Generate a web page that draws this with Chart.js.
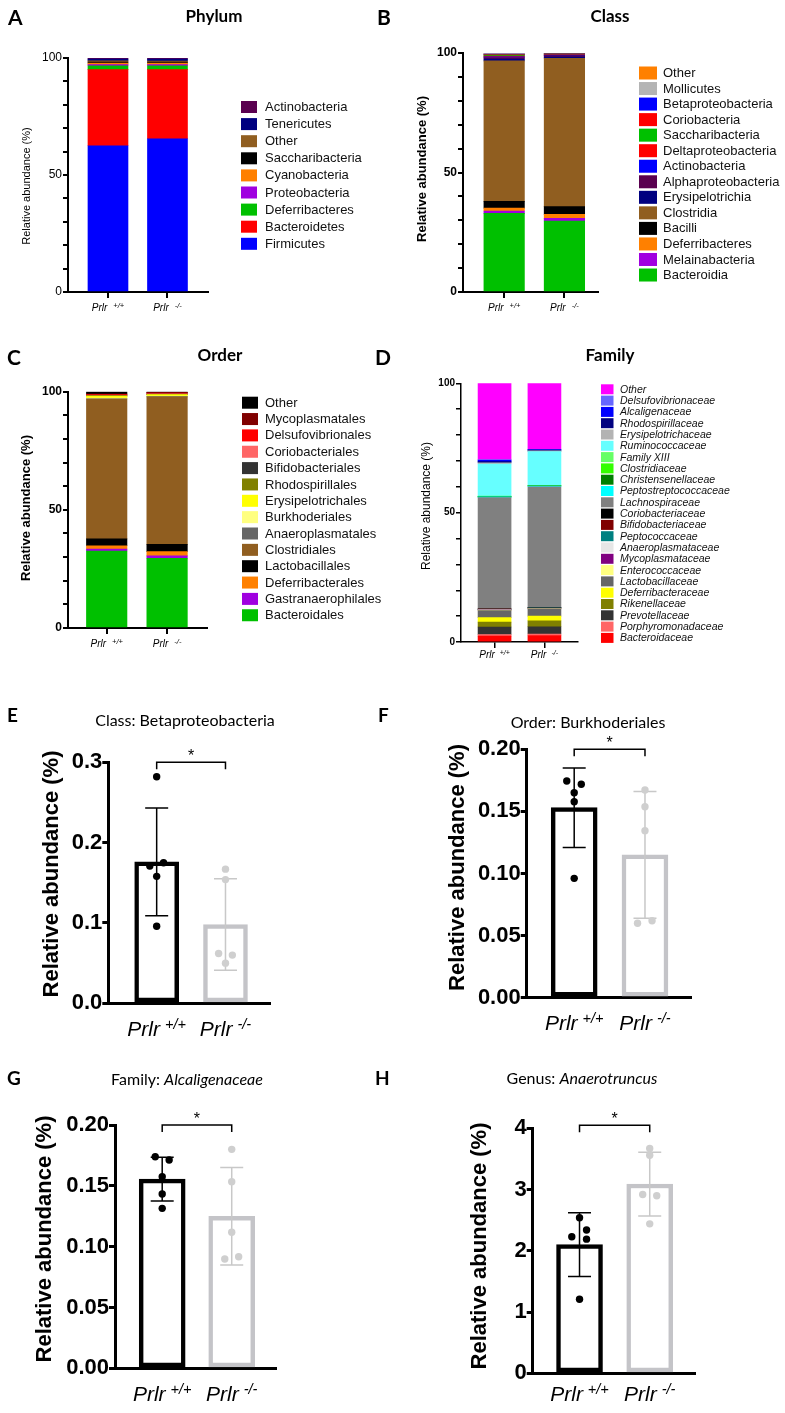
<!DOCTYPE html>
<html>
<head>
<meta charset="utf-8">
<title>Gut microbiota in Prlr mice</title>
<script src="https://cdn.jsdelivr.net/npm/chart.js@4.4.1/dist/chart.umd.min.js"></script>
<style>
  body { margin: 0; background: #fff; }
  .page { position: relative; width: 785px; height: 1413px; }
  canvas { position: absolute; left: 0; top: 0; }
</style>
</head>
<body>
<div class="page">
  <canvas id="phylum" width="785" height="1413"></canvas>
  <canvas id="class" width="785" height="1413"></canvas>
  <canvas id="order" width="785" height="1413"></canvas>
  <canvas id="family" width="785" height="1413"></canvas>
  <canvas id="beta" width="785" height="1413"></canvas>
  <canvas id="burk" width="785" height="1413"></canvas>
  <canvas id="alca" width="785" height="1413"></canvas>
  <canvas id="anaero" width="785" height="1413"></canvas>
</div>
<script>
// genotypes on the x axis (superscript part of "Prlr")
const genotypes = ["+/+", "-/-"];

// A: phylum, stacked bottom -> top
const phylumNames = ["Firmicutes", "Bacteroidetes", "Deferribacteres", "Proteobacteria", "Cyanobacteria",
  "Saccharibacteria", "Other", "Tenericutes", "Actinobacteria"];
const phylumWT = [62.5, 32.5, 1.7, 0.5, 0.6, 0.5, 0.5, 0.7, 0.5];
const phylumKO = [65.5, 29.5, 1.7, 0.5, 0.6, 0.5, 0.4, 0.8, 0.5];
const phylumColors = ["#0000ff", "#ff0000", "#00c000", "#a000e0", "#ff8000", "#000000", "#905e20", "#000080", "#5a0050"];

// B: class
const classNames = ["Bacteroidia", "Melainabacteria", "Deferribacteres", "Bacilli", "Clostridia", "Erysipelotrichia",
  "Alphaproteobacteria", "Actinobacteria", "Deltaproteobacteria", "Saccharibacteria", "Coriobacteria",
  "Betaproteobacteria", "Mollicutes", "Other"];
const classWT = [32.9, 1.0, 1.2, 2.8, 58.8, 0.8, 0.6, 0.3, 0.3, 0.4, 0.2, 0.2, 0.3, 0.2];
const classKO = [29.7, 1.1, 1.7, 3.2, 62.1, 0.5, 0.6, 0.2, 0.2, 0.3, 0.1, 0.1, 0.1, 0.1];
const classColors = ["#00c000", "#a000e0", "#ff8000", "#000000", "#905e20", "#000080", "#5a0050", "#0000ff",
  "#ff0000", "#00c000", "#ff0000", "#0000ff", "#b4b4b4", "#ff8000"];

// C: order
const orderNames = ["Bacteroidales", "Gastranaerophilales", "Deferribacterales", "Lactobacillales", "Clostridiales",
  "Anaeroplasmatales", "Burkhoderiales", "Erysipelotrichales", "Rhodospirillales", "Bifidobacteriales",
  "Coriobacteriales", "Delsufovibrionales", "Mycoplasmatales", "Other"];
const orderWT = [32.6, 0.8, 1.4, 2.9, 59.2, 0.1, 0.3, 0.8, 0.1, 0.1, 0.1, 0.4, 0.2, 1.0];
const orderKO = [29.5, 1.0, 1.8, 3.1, 62.4, 0.1, 0.2, 0.7, 0.1, 0.1, 0.1, 0.3, 0.2, 0.4];
const orderColors = ["#00c000", "#a000e0", "#ff8000", "#000000", "#905e20", "#666666", "#ffff80", "#ffff00",
  "#808000", "#333333", "#ff6666", "#ff0000", "#800000", "#000000"];

// D: family
const familyNames = ["Bacteroidaceae", "Porphyromonadaceae", "Prevotellaceae", "Rikenellaceae", "Deferribacteraceae",
  "Lactobacillaceae", "Enterococcaceae", "Mycoplasmataceae", "Anaeroplasmataceae", "Peptococcaceae",
  "Bifidobacteriaceae", "Coriobacteriaceae", "Lachnospiraceae", "Peptostreptococcaceae", "Christensenellaceae",
  "Clostridiaceae", "Family XIII", "Ruminococcaceae", "Erysipelotrichaceae", "Rhodospirillaceae",
  "Alcaligenaceae", "Delsufovibrionaceae", "Other"];
const familyWT = [2.3, 0.6, 2.9, 1.9, 1.7, 2.7, 0.2, 0.1, 0.1, 0.1, 0.1, 0.1, 43.0, 0.3, 0.1, 0.1, 0.1, 12.4, 0.5, 0.4, 0.5, 0.3, 29.5];
const familyKO = [2.5, 0.6, 2.8, 2.3, 1.8, 2.8, 0.1, 0.05, 0.05, 0.2, 0.05, 0.15, 46.6, 0.3, 0.1, 0.1, 0.1, 13.0, 0.3, 0.3, 0.2, 0.1, 25.5];
const familyColors = ["#ff0000", "#ff6666", "#333333", "#808000", "#ffff00", "#666666", "#ffff80", "#800080",
  "#e6e6e6", "#008080", "#800000", "#000000", "#808080", "#00ffff", "#008000", "#33ff00", "#66ff66",
  "#66ffff", "#b3b3b3", "#000080", "#0000ff", "#6666ff", "#ff00ff"];

// E: Class Betaproteobacteria (mean, SD, individual mice)
const betaMean = [0.176, 0.098];
const betaSD = [0.067, 0.057];
const betaWT = [0.282, 0.171, 0.175, 0.158, 0.096];
const betaKO = [0.167, 0.154, 0.062, 0.060, 0.050];
const betaJitWT = [0, -0.1, 0.1, 0, 0];
const betaJitKO = [0, 0, -0.1, 0.1, 0];

// F: Order Burkhoderiales
const burkMean = [0.153, 0.115];
const burkSD = [0.032, 0.051];
const burkWT = [0.1745, 0.1718, 0.165, 0.1578, 0.0961];
const burkKO = [0.1672, 0.1538, 0.1345, 0.0599, 0.062];
const burkJitWT = [-0.105, 0.1, 0, 0, 0];
const burkJitKO = [0, 0, 0, -0.105, 0.1];

// G: Family Alcaligenaceae
const alcaMean = [0.1555, 0.1250];
const alcaSD = [0.018, 0.040];
const alcaWT = [0.1739, 0.1712, 0.1575, 0.1433, 0.1315];
const alcaKO = [0.180, 0.1534, 0.1118, 0.0898, 0.0917];
const alcaJitWT = [-0.1, 0.1, 0, 0, 0];
const alcaJitKO = [0, 0, 0, -0.1, 0.1];

// H: Genus Anaerotruncus
const anaeroMean = [2.10, 3.09];
const anaeroSD = [0.52, 0.52];
const anaeroWT = [2.54, 2.23, 2.34, 2.19, 1.21];
const anaeroKO = [3.67, 3.56, 2.92, 2.90, 2.44];
const anaeroJitWT = [0, -0.11, 0.1, 0.1, 0];
const anaeroJitKO = [0, 0, -0.1, 0.1, 0];

const ARIAL = '"Liberation Sans", Arial, sans-serif';
const LATO = 'Lato, "Open Sans", sans-serif';
const W = 785, H = 1413;
const KO_BAR = "#c4c4c8", KO_DOT = "#cfcfcf", KO_ERR = "#c8c8c8";
const Y_W = 70; // room kept for y tick labels (labels are clipped to the scale box)

Chart.defaults.font.family = ARIAL;
Chart.defaults.color = "#000";

// draws letters, titles, axis titles, Prlr labels, legends, error bars, brackets
function decoPlugin(d) {
  return {
    id: "deco",
    afterDatasetDraw(chart, args) {
      if (!d.err || args.index !== 0) return;
      const { ctx, scales: { x, y } } = chart;
      ctx.save();
      ctx.lineWidth = 1.5;
      d.err.mean.forEach((m, i) => {
        const px = x.getPixelForValue(i);
        const hi = y.getPixelForValue(m + d.err.sd[i]);
        const lo = y.getPixelForValue(m - d.err.sd[i]);
        ctx.strokeStyle = i ? KO_ERR : "#000";
        ctx.beginPath();
        ctx.moveTo(px, hi); ctx.lineTo(px, lo);
        ctx.moveTo(px - 11.5, hi); ctx.lineTo(px + 11.5, hi);
        ctx.moveTo(px - 11.5, lo); ctx.lineTo(px + 11.5, lo);
        ctx.stroke();
      });
      ctx.restore();
    },
    afterDraw(chart) {
      const { ctx, scales: { x, y } } = chart;
      ctx.save();
      ctx.fillStyle = "#000";
      // panel letter
      ctx.font = `bold ${d.letter.size}px ${LATO}`;
      ctx.textAlign = "left"; ctx.textBaseline = "alphabetic";
      ctx.fillText(d.letter.t, d.letter.x, d.letter.y);
      // panel title, may mix roman and italic
      const fonts = d.title.parts.map(p => `${p.i ? "italic " : ""}${d.title.bold ? "bold " : ""}${d.title.size}px ${LATO}`);
      const widths = d.title.parts.map((p, k) => { ctx.font = fonts[k]; return ctx.measureText(p.t).width; });
      let tx = d.title.x - widths.reduce((a, b) => a + b, 0) / 2;
      ctx.textBaseline = "middle";
      d.title.parts.forEach((p, k) => { ctx.font = fonts[k]; ctx.fillText(p.t, tx, d.title.y); tx += widths[k]; });
      // y axis title
      ctx.save();
      ctx.translate(d.yTitle.x, d.yTitle.y);
      ctx.rotate(-Math.PI / 2);
      ctx.textAlign = "center";
      ctx.font = `${d.yTitle.bold ? "bold " : ""}${d.yTitle.size}px ${ARIAL}`;
      ctx.fillText("Relative abundance (%)", 0, 0);
      ctx.restore();
      // x group labels: Prlr with superscript genotype
      const L = d.xLab;
      ctx.textAlign = "left"; ctx.textBaseline = "alphabetic";
      genotypes.forEach((g, i) => {
        const cx = x.getPixelForValue(i);
        ctx.font = `italic ${L.size}px ${ARIAL}`;
        const w1 = ctx.measureText("Prlr").width;
        ctx.font = `italic ${L.sup}px ${ARIAL}`;
        const w2 = ctx.measureText(g).width;
        const x0 = cx - (w1 + L.gap + w2) / 2;
        ctx.font = `italic ${L.size}px ${ARIAL}`;
        ctx.fillText("Prlr", x0, L.y);
        ctx.font = `italic ${L.sup}px ${ARIAL}`;
        ctx.fillText(g, x0 + w1 + L.gap, L.y - L.rise);
      });
      // legend, top item is the last stacked dataset
      if (d.legend) {
        const G = d.legend;
        const sets = chart.data.datasets.slice().reverse();
        ctx.font = `${G.italic ? "italic " : ""}${G.size}px ${ARIAL}`;
        ctx.textBaseline = "middle";
        sets.forEach((ds, k) => {
          const cy = G.y + k * G.step;
          ctx.fillStyle = ds.backgroundColor;
          ctx.fillRect(G.x, cy - G.bh / 2, G.bw, G.bh);
          ctx.fillStyle = "#111";
          ctx.fillText(ds.label, G.tx, cy + 0.5);
        });
      }
      // significance bracket
      if (d.bracket) {
        const x0 = x.getPixelForValue(0), x1 = x.getPixelForValue(1);
        const by = y.getPixelForValue(d.bracket.v);
        ctx.strokeStyle = "#000"; ctx.lineWidth = 1.5;
        ctx.beginPath();
        ctx.moveTo(x0, by + 7); ctx.lineTo(x0, by); ctx.lineTo(x1, by); ctx.lineTo(x1, by + 7);
        ctx.stroke();
        ctx.fillStyle = "#000";
        ctx.font = `16px ${ARIAL}`;
        ctx.textAlign = "center"; ctx.textBaseline = "alphabetic";
        ctx.fillText("*", (x0 + x1) / 2, by - 1);
      }
      ctx.restore();
    }
  };
}

function baseOptions(c) {
  return {
    responsive: false,
    animation: false,
    devicePixelRatio: 1,
    events: [],
    layout: { padding: { left: c.box[0] - Y_W, top: c.box[1], right: W - c.box[2], bottom: H - c.box[3] } },
    plugins: { legend: { display: false }, tooltip: { enabled: false } }
  };
}

function stackedChart(id, names, wt, ko, colors, c) {
  return new Chart(document.getElementById(id), {
    type: "bar",
    data: {
      datasets: names.map((n, i) => ({
        label: n,
        data: [{ x: 0, y: wt[i] }, { x: 1, y: ko[i] }],
        backgroundColor: colors[i],
        borderWidth: 0,
        barThickness: c.barW
      }))
    },
    options: Object.assign(baseOptions(c), {
      scales: {
        x: {
          type: "linear", min: c.xMin, max: c.xMax, stacked: true, offset: false,
          afterFit: s => { s.height = 0; },
          afterBuildTicks: s => { s.ticks = [{ value: 0 }, { value: 1 }]; },
          ticks: { display: false },
          grid: { offset: false, drawOnChartArea: false, tickLength: 6, color: "#000", lineWidth: c.line },
          border: { color: "#000", width: c.line }
        },
        y: {
          min: 0, max: 100, stacked: true,
          afterFit: s => { s.width = Y_W; },
          ticks: { stepSize: 10, autoSkip: false, padding: 1, font: c.tickFont, color: "#000",
            callback: v => (v % 50 === 0 ? v : "") },
          grid: { drawOnChartArea: false, tickLength: 5, color: "#000", lineWidth: c.line },
          border: { color: "#000", width: c.line }
        }
      }
    }),
    plugins: [decoPlugin(c.deco)]
  });
}

function dotChart(id, mean, sd, wt, ko, jitWT, jitKO, c) {
  const points = wt.map((v, i) => ({ x: jitWT[i], y: v })).concat(ko.map((v, i) => ({ x: 1 + jitKO[i], y: v })));
  const dotColors = wt.map(() => "#000").concat(ko.map(() => KO_DOT));
  c.deco.err = { mean, sd };
  return new Chart(document.getElementById(id), {
    type: "bar",
    data: {
      datasets: [
        {
          data: mean.map((v, i) => ({ x: i, y: v })),
          backgroundColor: "#fff",
          borderColor: ["#000", KO_BAR],
          borderWidth: 4.5,
          borderSkipped: false,
          barThickness: c.barW
        },
        {
          type: "scatter",
          order: -1,
          data: points,
          pointRadius: 3.7,
          pointBackgroundColor: dotColors,
          pointBorderWidth: 0
        }
      ]
    },
    options: Object.assign(baseOptions(c), {
      scales: {
        x: {
          type: "linear", min: c.xMin, max: c.xMax, offset: false,
          afterFit: s => { s.height = 0; },
          ticks: { display: false },
          grid: { display: false, offset: false },
          border: { color: "#000", width: 3 }
        },
        y: {
          min: 0, max: c.yMax,
          afterFit: s => { s.width = Y_W; },
          ticks: { stepSize: c.step, autoSkip: false, padding: 0, color: "#000",
            font: { size: 22, weight: "bold" }, callback: v => v.toFixed(c.dec) },
          grid: { drawOnChartArea: false, tickLength: 6, color: "#000", lineWidth: 3 },
          border: { color: "#000", width: 3 }
        }
      }
    }),
    plugins: [decoPlugin(c.deco)]
  });
}

// ---- stacked composition panels ----
stackedChart("phylum", phylumNames, phylumWT, phylumKO, phylumColors, {
  box: [68, 58, 208, 292], xMin: -0.672, xMax: 1.681, barW: 40, line: 2, tickFont: { size: 12 },
  deco: {
    letter: { t: "A", x: 8, y: 25, size: 21 },
    title: { parts: [{ t: "Phylum" }], x: 214, y: 17, size: 17, bold: true },
    yTitle: { x: 27, y: 186, size: 11, bold: false },
    xLab: { y: 311, size: 10, sup: 7.5, gap: 6, rise: 3.5 },
    legend: { x: 241, y: 107, step: 17.1, bw: 16, bh: 12, tx: 265, size: 13 }
  }
});

stackedChart("class", classNames, classWT, classKO, classColors, {
  box: [463, 53, 598, 292], xMin: -0.683, xMax: 1.557, barW: 40.5, line: 2, tickFont: { size: 12, weight: "bold" },
  deco: {
    letter: { t: "B", x: 377, y: 25, size: 21 },
    title: { parts: [{ t: "Class" }], x: 610, y: 17, size: 17, bold: true },
    yTitle: { x: 422, y: 169, size: 13, bold: true },
    xLab: { y: 311, size: 10, sup: 7.5, gap: 6, rise: 3.5 },
    legend: { x: 639, y: 73, step: 15.54, bw: 18, bh: 13, tx: 663, size: 13 }
  }
});

stackedChart("order", orderNames, orderWT, orderKO, orderColors, {
  box: [68, 391.7, 206.7, 628], xMin: -0.641, xMax: 1.656, barW: 40.5, line: 2, tickFont: { size: 12, weight: "bold" },
  deco: {
    letter: { t: "C", x: 7, y: 365, size: 21 },
    title: { parts: [{ t: "Order" }], x: 220, y: 355.5, size: 17, bold: true },
    yTitle: { x: 26, y: 508, size: 13, bold: true },
    xLab: { y: 647, size: 10, sup: 7.5, gap: 6, rise: 3.5 },
    legend: { x: 242, y: 402.7, step: 16.35, bw: 16, bh: 12, tx: 265, size: 13 }
  }
});

stackedChart("family", familyNames, familyWT, familyKO, familyColors, {
  box: [461, 383.3, 578, 642], xMin: -0.673, xMax: 1.673, barW: 33, line: 1.5, tickFont: { size: 10, weight: "bold" },
  deco: {
    letter: { t: "D", x: 375, y: 365, size: 21 },
    title: { parts: [{ t: "Family" }], x: 610, y: 356, size: 17, bold: true },
    yTitle: { x: 427, y: 506, size: 12, bold: false },
    xLab: { y: 658, size: 10, sup: 7, gap: 5, rise: 3.5 },
    legend: { x: 601, y: 389.3, step: 11.3, bw: 12.5, bh: 10, tx: 620, size: 10.5, italic: true }
  }
});

// ---- single-taxon panels ----
dotChart("beta", betaMean, betaSD, betaWT, betaKO, betaJitWT, betaJitKO, {
  box: [108.3, 762.3, 270, 1003.3], xMin: -0.703, xMax: 1.647, barW: 44, yMax: 0.3, step: 0.1, dec: 1,
  deco: {
    letter: { t: "E", x: 7, y: 722, size: 19 },
    title: { parts: [{ t: "Class: Betaproteobacteria" }], x: 185, y: 721, size: 16 },
    yTitle: { x: 52, y: 874, size: 22, bold: true },
    xLab: { y: 1036, size: 21, sup: 14.5, gap: 5, rise: 7 },
    bracket: { v: 0.3 }
  }
});

dotChart("burk", burkMean, burkSD, burkWT, burkKO, burkJitWT, burkJitKO, {
  box: [526.7, 749.3, 691.7, 997.7], xMin: -0.671, xMax: 1.66, barW: 46, yMax: 0.2, step: 0.05, dec: 2,
  deco: {
    letter: { t: "F", x: 378, y: 722, size: 19 },
    title: { parts: [{ t: "Order: Burkhoderiales" }], x: 588, y: 723, size: 16 },
    yTitle: { x: 457.5, y: 867.5, size: 22, bold: true },
    xLab: { y: 1030, size: 21, sup: 14.5, gap: 5, rise: 7 },
    bracket: { v: 0.2 }
  }
});

dotChart("alca", alcaMean, alcaSD, alcaWT, alcaKO, alcaJitWT, alcaJitKO, {
  box: [115, 1125, 276.7, 1368.3], xMin: -0.679, xMax: 1.647, barW: 46, yMax: 0.2, step: 0.05, dec: 2,
  deco: {
    letter: { t: "G", x: 7, y: 1085, size: 19 },
    title: { parts: [{ t: "Family: " }, { t: "Alcaligenaceae", i: true }], x: 187, y: 1080, size: 16 },
    yTitle: { x: 45, y: 1239, size: 22, bold: true },
    xLab: { y: 1401, size: 21, sup: 14.5, gap: 5, rise: 7 },
    bracket: { v: 0.2 }
  }
});

dotChart("anaero", anaeroMean, anaeroSD, anaeroWT, anaeroKO, anaeroJitWT, anaeroJitKO, {
  box: [532.7, 1128.3, 695, 1373.3], xMin: -0.667, xMax: 1.645, barW: 46, yMax: 4, step: 1, dec: 0,
  deco: {
    letter: { t: "H", x: 375, y: 1085, size: 19 },
    title: { parts: [{ t: "Genus: " }, { t: "Anaerotruncus", i: true }], x: 582, y: 1079, size: 16 },
    yTitle: { x: 480, y: 1246, size: 22, bold: true },
    xLab: { y: 1401, size: 21, sup: 14.5, gap: 5, rise: 7 },
    bracket: { v: 4.05 }
  }
});
</script>
</body>
</html>
